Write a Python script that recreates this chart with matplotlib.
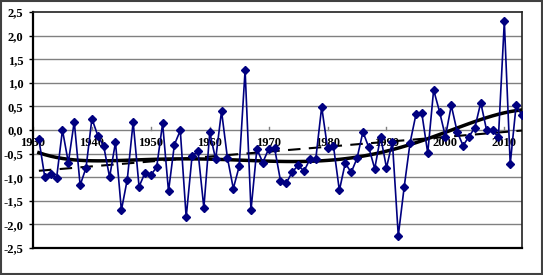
import numpy as np
import matplotlib.pyplot as plt
from matplotlib.patches import Rectangle

# yearly anomaly values, 1931..2013
years = list(range(1931, 2014))
values = [
    -0.20, -1.00, -0.94, -1.02, 0.00, -0.69, 0.18, -1.17, -0.80, 0.24,
    -0.12, -0.34, -1.00, -0.26, -1.70, -1.05, 0.17, -1.20, -0.91, -0.96,
    -0.78, 0.14, -1.30, -0.31, -0.01, -1.85, -0.55, -0.45, -1.65, -0.05,
    -0.62, 0.40, -0.59, -1.24, -0.77, 1.27, -1.70, -0.40, -0.69, -0.40,
    -0.38, -1.07, -1.12, -0.89, -0.75, -0.87, -0.62, -0.61, 0.49, -0.39,
    -0.34, -1.28, -0.70, -0.90, -0.60, -0.04, -0.37, -0.82, -0.14, -0.80,
    -0.25, -2.24, -1.21, -0.27, 0.33, 0.35, -0.49, 0.85, 0.39, -0.14,
    0.52, -0.04, -0.33, -0.14, 0.05, 0.58, -0.01, -0.01, -0.15, 2.30,
    -0.72, 0.52, 0.31,
]
x_tick_years = [1930, 1940, 1950, 1960, 1970, 1980, 1990, 2000, 2010]
y_ticks = [-2.5, -2.0, -1.5, -1.0, -0.5, 0.0, 0.5, 1.0, 1.5, 2.0, 2.5]

x = np.array(years, dtype=float)
y = np.array(values)
xs = (x - x.mean()) / 40.0

# trend lines fitted to the series
lin = np.polyval(np.polyfit(xs, y, 1), xs)
poly = np.polyval(np.polyfit(xs, y, 5), xs)

fig = plt.figure(figsize=(5.43, 2.75), dpi=100)
ax = fig.add_axes([33 / 543, 1 - 248 / 275, 489 / 543, 236 / 275])

serif = ['Liberation Serif', 'DejaVu Serif']

ax.set_xlim(1930, 2013)
ax.set_ylim(-2.5, 2.5)
ax.set_yticks(y_ticks)
ax.set_yticklabels([('%.1f' % v).replace('.', ',') for v in y_ticks],
                   fontfamily=serif, fontweight='bold', fontsize=9)
ax.tick_params(axis='y', length=3, pad=4, width=1)
ax.set_xticks([])

for v in y_ticks[1:-1]:
    ax.axhline(v, color='#808080', lw=1, zorder=1)

for yr in x_tick_years:
    ax.annotate(str(yr), (yr, 0), xytext=(0, -5), textcoords='offset points',
                ha='center', va='top', fontfamily=serif, fontweight='bold',
                fontsize=9, zorder=2)
    ax.plot([yr, yr], [0, 0.07], color='#808080', lw=1, zorder=1)

ax.plot(x, y, color='#000080', lw=1.2, marker='D', ms=4, zorder=4)
ax.plot(x, lin, color='black', lw=1.5, ls=(0, (6, 4)), zorder=3)
ax.plot(x, poly, color='black', lw=2.5, zorder=3)

for side in ['left', 'bottom']:
    ax.spines[side].set_linewidth(1.6)
for side in ['top', 'right']:
    ax.spines[side].set_linewidth(1.2)
    ax.spines[side].set_color('#202020')

fig.patches.append(Rectangle((0.002, 0.004), 0.996, 0.992, transform=fig.transFigure,
                             fill=False, edgecolor='#404040', lw=1.5))

fig.savefig('out.png', dpi=100)
